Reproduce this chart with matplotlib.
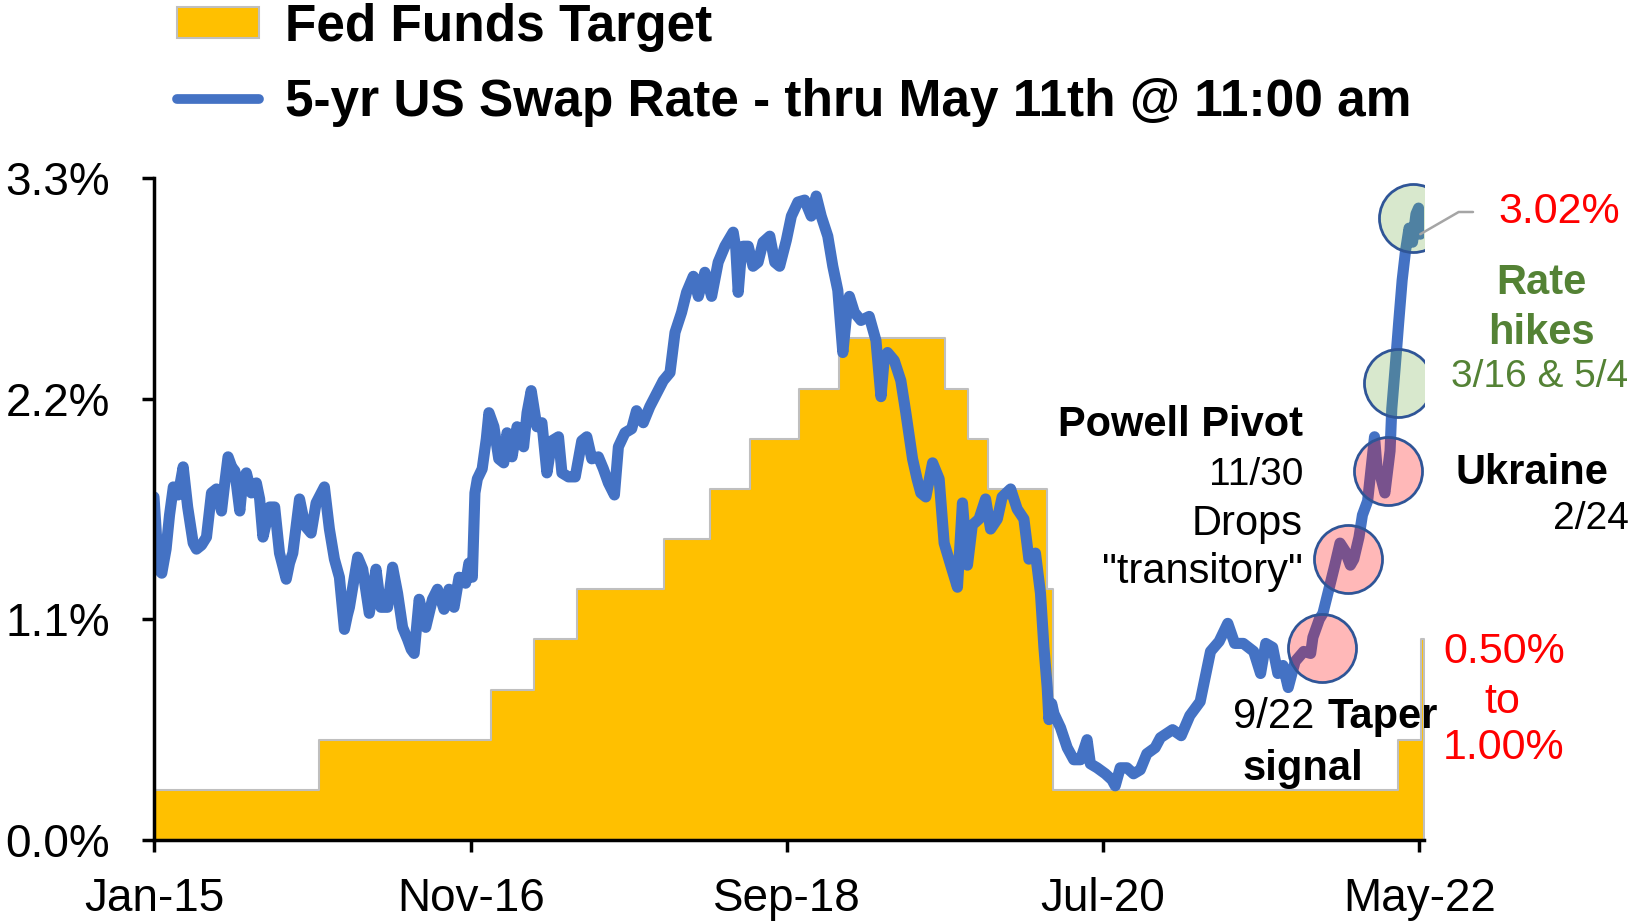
import numpy as np
import pandas as pd
import matplotlib
matplotlib.use("Agg")
import matplotlib.pyplot as plt
import matplotlib.dates as mdates
from matplotlib.patches import Patch
from matplotlib.lines import Line2D
from matplotlib.font_manager import FontProperties

plt.rcParams["font.family"] = ["Liberation Sans", "DejaVu Sans"]

# =====================================================
# DATA
# =====================================================

START = pd.Timestamp("2015-01-01")
END = pd.Timestamp("2022-05-11")

# Fed funds target (upper bound), step changes
fed_dates = [
    "2015-01-01", "2015-12-17", "2016-12-15", "2017-03-16", "2017-06-15",
    "2017-12-14", "2018-03-22", "2018-06-14", "2018-09-27", "2018-12-20",
    "2019-08-01", "2019-09-19", "2019-10-31", "2020-03-04", "2020-03-16",
    "2022-03-17", "2022-05-05", "2022-05-11",
]
fed_rate = [
    0.25, 0.50, 0.75, 1.00, 1.25,
    1.50, 1.75, 2.00, 2.25, 2.50,
    2.25, 2.00, 1.75, 1.25, 0.25,
    0.50, 1.00, 1.00,
]

# 5-yr swap rate (years since Jan-15, %)
swap_t = [
    0.000, 0.012, 0.025, 0.045, 0.070, 0.090, 0.112, 0.140, 0.169, 0.195,
    0.227, 0.246, 0.275, 0.304, 0.333, 0.362, 0.391, 0.410, 0.429, 0.450,
    0.468, 0.497, 0.515, 0.535, 0.564, 0.593, 0.612, 0.631, 0.650, 0.670,
    0.699, 0.727, 0.766, 0.785, 0.804, 0.843, 0.862, 0.881, 0.910, 0.939,
    0.987, 1.016, 1.045, 1.074, 1.103, 1.120, 1.132, 1.180, 1.209, 1.247,
    1.286, 1.314, 1.353, 1.382, 1.411, 1.440, 1.469, 1.490, 1.507, 1.536,
    1.574, 1.613, 1.642, 1.680, 1.709, 1.738, 1.767, 1.805, 1.824, 1.844,
    1.859, 1.873, 1.901, 1.925, 1.940, 1.969, 1.997, 2.026, 2.045, 2.074,
    2.103, 2.141, 2.161, 2.185, 2.218, 2.247, 2.276, 2.305, 2.343, 2.363,
    2.401, 2.440, 2.478, 2.507, 2.536, 2.574, 2.603, 2.632, 2.667, 2.690,
    2.728, 2.767, 2.795, 2.834, 2.872, 2.920, 2.950, 2.989, 3.018, 3.056,
    3.085, 3.124, 3.153, 3.191, 3.230, 3.268, 3.307, 3.355, 3.370, 3.384,
    3.400, 3.413, 3.442, 3.470, 3.499, 3.528, 3.567, 3.596, 3.624, 3.663,
    3.692, 3.730, 3.769, 3.807, 3.836, 3.865, 3.903, 3.932, 3.961, 3.990,
    4.010, 4.028, 4.057, 4.095, 4.143, 4.182, 4.211, 4.230, 4.249, 4.288,
    4.326, 4.355, 4.394, 4.420, 4.442, 4.471, 4.510, 4.548, 4.577, 4.615,
    4.654, 4.683, 4.700, 4.712, 4.740, 4.779, 4.817, 4.846, 4.885, 4.913,
    4.962, 5.000, 5.039, 5.068, 5.106, 5.135, 5.155, 5.174, 5.184, 5.200,
    5.213, 5.251, 5.290, 5.328, 5.367, 5.405, 5.424, 5.463, 5.511, 5.549,
    5.568, 5.597, 5.636, 5.674, 5.713, 5.751, 5.799, 5.830, 5.900, 5.950,
    6.000, 6.060, 6.120, 6.170, 6.220, 6.260, 6.310, 6.370, 6.410, 6.440,
    6.480, 6.510, 6.540, 6.570, 6.610, 6.660, 6.700, 6.713, 6.750, 6.771,
    6.800, 6.840, 6.870, 6.900, 6.930, 6.950, 6.980, 7.000, 7.030, 7.070,
    7.085, 7.100, 7.130, 7.160, 7.170, 7.190, 7.210, 7.230, 7.250, 7.270,
    7.290, 7.310, 7.325, 7.335,
]
swap_rate = [
    1.71, 1.55, 1.35, 1.33, 1.45, 1.62, 1.76, 1.72, 1.86, 1.66,
    1.48, 1.45, 1.47, 1.51, 1.73, 1.75, 1.64, 1.78, 1.91, 1.86,
    1.84, 1.64, 1.80, 1.83, 1.73, 1.78, 1.70, 1.51, 1.58, 1.66,
    1.66, 1.43, 1.30, 1.38, 1.43, 1.70, 1.62, 1.56, 1.53, 1.68,
    1.76, 1.55, 1.40, 1.31, 1.05, 1.12, 1.16, 1.41, 1.35, 1.13,
    1.35, 1.16, 1.16, 1.36, 1.23, 1.06, 1.00, 0.95, 0.93, 1.20,
    1.06, 1.20, 1.25, 1.15, 1.25, 1.16, 1.31, 1.28, 1.38, 1.31,
    1.73, 1.80, 1.85, 2.00, 2.13, 2.06, 1.90, 1.88, 2.03, 1.91,
    2.06, 1.96, 2.13, 2.24, 2.06, 2.08, 1.83, 1.99, 2.01, 1.83,
    1.81, 1.81, 1.99, 2.01, 1.90, 1.91, 1.85, 1.78, 1.72, 1.96,
    2.03, 2.05, 2.14, 2.08, 2.16, 2.24, 2.29, 2.33, 2.53, 2.63,
    2.73, 2.81, 2.71, 2.83, 2.71, 2.88, 2.96, 3.03, 2.95, 2.73,
    2.90, 2.96, 2.96, 2.86, 2.88, 2.98, 3.01, 2.88, 2.86, 2.99,
    3.11, 3.18, 3.19, 3.11, 3.21, 3.11, 3.01, 2.86, 2.74, 2.43,
    2.60, 2.71, 2.63, 2.59, 2.61, 2.49, 2.21, 2.40, 2.43, 2.39,
    2.29, 2.13, 1.90, 1.80, 1.73, 1.71, 1.88, 1.80, 1.48, 1.37,
    1.26, 1.68, 1.50, 1.37, 1.57, 1.60, 1.70, 1.55, 1.60, 1.71,
    1.75, 1.65, 1.60, 1.40, 1.43, 1.23, 0.96, 0.76, 0.60, 0.68,
    0.63, 0.56, 0.46, 0.40, 0.40, 0.50, 0.38, 0.36, 0.33, 0.30,
    0.27, 0.36, 0.36, 0.33, 0.35, 0.43, 0.46, 0.51, 0.55, 0.52,
    0.62, 0.69, 0.94, 0.99, 1.08, 0.98, 0.98, 0.94, 0.83, 0.98,
    0.96, 0.83, 0.87, 0.76, 0.89, 0.94, 0.93, 1.01, 1.10, 1.13,
    1.23, 1.37, 1.48, 1.44, 1.37, 1.40, 1.51, 1.62, 1.69, 2.01,
    1.85, 1.83, 1.73, 1.94, 2.15, 2.36, 2.58, 2.79, 2.94, 3.05,
    2.98, 3.12, 3.15, 3.02,
]

# highlighted events (circle centres as drawn)
red_circle_t = [6.763, 6.915, 7.150]
red_circle_v = [0.955, 1.40, 1.84]
green_circle_t = [7.204, 7.290]
green_circle_v = [2.28, 3.10]

last_label = "3.02%"

y_ticks = [0.0, 1.1, 2.2, 3.3]
x_ticks = ["2015-01-01", "2016-11-01", "2018-09-01", "2020-07-01", "2022-05-01"]

# =====================================================
# HELPERS
# =====================================================

W, H = 1635, 924


def fx(x):
    return x / W


def fy(y):
    return 1 - y / H


def to_dates(t):
    return START + pd.to_timedelta(np.array(t) * 365.25, unit="D")


# =====================================================
# FIGURE
# =====================================================

fig = plt.figure(figsize=(W / 100, H / 100), dpi=100)
ax = fig.add_axes([fx(154), fy(840), fx(1424) - fx(154), fy(178) - fy(840)])

fed_x = pd.to_datetime(fed_dates)
ax.fill_between(
    fed_x, 0, fed_rate,
    step="post",
    facecolor="#FFC000",
    edgecolor="#BFBFBF",
    linewidth=1.5,
    zorder=1
)

swap_x = to_dates(swap_t)
ax.plot(
    swap_x, swap_rate,
    color="#4472C4",
    linewidth=8,
    solid_joinstyle="round",
    solid_capstyle="round",
    zorder=2
)

# circles
ax.scatter(
    to_dates(red_circle_t), red_circle_v,
    s=2400, facecolor=(1, 0, 0, 0.28),
    edgecolor="#2F5597", linewidth=2, zorder=3
)
ax.scatter(
    to_dates(green_circle_t), green_circle_v,
    s=2400, facecolor=(0.44, 0.68, 0.28, 0.27),
    edgecolor="#2F5597", linewidth=2, zorder=3
)

# axes
ax.set_xlim(START, END)
ax.set_ylim(0, 3.3)

ax.set_yticks(y_ticks)
ax.set_yticklabels([f"{v:.1f}%" for v in y_ticks])
ax.set_xticks(pd.to_datetime(x_ticks))
ax.xaxis.set_major_formatter(mdates.DateFormatter("%b-%y"))

for side in ["top", "right"]:
    ax.spines[side].set_visible(False)
for side in ["left", "bottom"]:
    ax.spines[side].set_linewidth(2.5)
    ax.spines[side].set_color("black")

ax.tick_params(axis="both", direction="out", length=8.5, width=2.5,
               labelsize=33, colors="black")
ax.tick_params(axis="y", pad=23)
ax.tick_params(axis="x", pad=18)

# =====================================================
# LEGEND
# =====================================================

handles = [
    Patch(facecolor="#FFC000", edgecolor="#BFBFBF", linewidth=1.5),
    Line2D([0], [0], color="#4472C4", linewidth=7, solid_capstyle="round"),
]
labels = [
    "Fed Funds Target",
    "5-yr US Swap Rate - thru May 11th @ 11:00 am",
]
fig.legend(
    handles, labels,
    loc="upper left",
    bbox_to_anchor=(fx(177), fy(3)),
    frameon=False,
    prop=FontProperties(family=["Liberation Sans", "DejaVu Sans"],
                        weight="bold", size=37),
    handlelength=1.6,
    handleheight=0.55,
    handletextpad=0.5,
    labelspacing=0.5,
    borderpad=0,
    borderaxespad=0
)

# =====================================================
# ANNOTATIONS
# =====================================================

GREEN = "#548235"
RED = "#FF0000"


def label(x, y, s, size=30, weight="normal", color="black", ha="center"):
    # y is the visual middle of the text line in pixels
    fig.text(fx(x), fy(y + 0.36 * size * 1.39), s, fontsize=size,
             fontweight=weight, color=color, ha=ha, va="baseline")


label(1303, 421, "Powell Pivot", weight="bold", ha="right")
label(1303, 471, "11/30", size=28, ha="right")
label(1303, 520, "Drops", ha="right")
label(1303, 568, "\"transitory\"", ha="right")

label(1314, 713, "9/22", ha="right")
label(1327, 713, "Taper", weight="bold", ha="left")
label(1303, 765, "signal", weight="bold")

label(1455, 469, "Ukraine", weight="bold", ha="left")
label(1629, 515, "2/24", size=28, ha="right")

label(1541, 279, "Rate", weight="bold", color=GREEN)
label(1541, 329, "hikes", weight="bold", color=GREEN)
label(1540, 373, "3/16 & 5/4", size=28, color=GREEN)

label(1504, 647, "0.50%", size=31, color=RED)
label(1502, 697, "to", size=31, color=RED)
label(1504, 743, "1.00%", size=31, color=RED)

ax.annotate(
    last_label,
    xy=(swap_x[-1], swap_rate[-1]),
    xycoords="data",
    xytext=(fx(1498), fy(212)),
    textcoords="figure fraction",
    fontsize=31,
    color=RED,
    ha="left",
    va="center",
    annotation_clip=False,
    arrowprops=dict(
        arrowstyle="-",
        color="#A5A5A5",
        linewidth=1.8,
        connectionstyle="angle,angleA=0,angleB=30,rad=0",
        shrinkA=16,
        shrinkB=0
    ),
    zorder=4
)

fig.savefig("out.png", dpi=100)
